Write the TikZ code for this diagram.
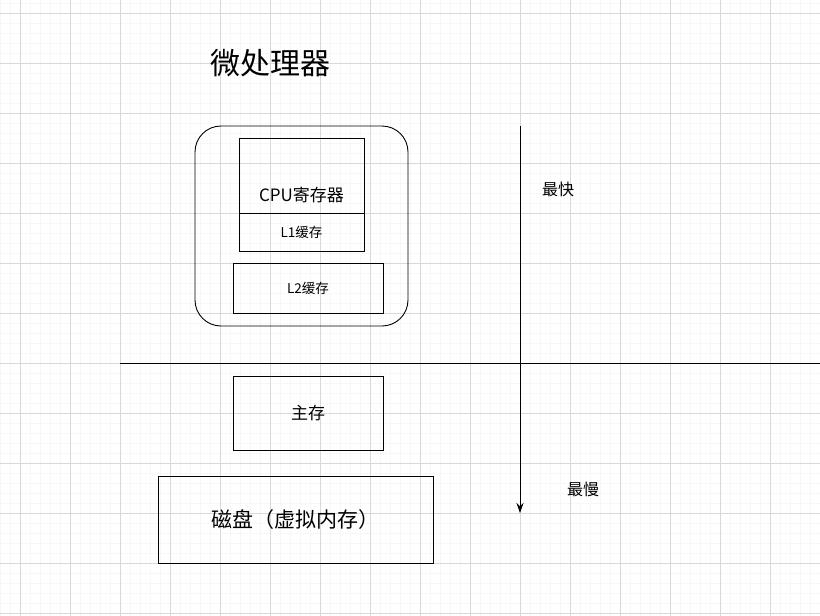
\documentclass[tikz,border=0pt]{standalone}
\usepackage{fontspec}
\setmainfont{Noto Sans CJK SC}
\usetikzlibrary{arrows.meta}
\begin{document}
\begin{tikzpicture}[x=1pt,y=-1pt,
  box/.style={draw,line width=0.9pt,inner sep=0},
  lbl/.style={inner sep=0}]
\useasboundingbox (0,0) rectangle (820,616);
\fill[white] (0,0) rectangle (820,616);
\foreach \i in {0,10,...,820} \draw[black!3,line width=0.6pt] (\i,0) -- (\i,616);
\foreach \j in {3,13,...,616} \draw[black!3,line width=0.6pt] (0,\j) -- (820,\j);
\foreach \i in {20,70,...,820} \draw[black!15,line width=0.8pt] (\i,0) -- (\i,616);
\foreach \j in {13,63,...,616} \draw[black!15,line width=0.8pt] (0,\j) -- (820,\j);
\node[lbl,font=\fontsize{30}{32}\selectfont] (title) at (270,63) {微处理器};
\draw[box,rounded corners=26pt] (195,126) rectangle (408,326);
\node[box,minimum width=125pt,minimum height=75pt] (cpu) at (301.5,175.5) {};
\node[lbl,font=\fontsize{17}{19}\selectfont] at (301.5,195) {CPU寄存器};
\node[box,minimum width=125pt,minimum height=38pt,font=\fontsize{13.5}{15}\selectfont] (l1) at (301.5,232) {L1缓存};
\node[box,minimum width=150pt,minimum height=50pt,font=\fontsize{13.5}{15}\selectfont] (l2) at (308,288) {L2缓存};
\node[box,minimum width=150pt,minimum height=74pt,font=\fontsize{17}{19}\selectfont] (mem) at (308,413) {主存};
\node[box,minimum width=275pt,minimum height=87pt,font=\fontsize{21}{23}\selectfont] (disk) at (295.5,519.5) {磁盘（虚拟内存）};
\coordinate (hl) at (120,363); \coordinate (hr) at (820,363);
\draw[line width=0.9pt] (hl) -- (hr);
\coordinate (vt) at (520,126); \coordinate (vb) at (520,513);
\draw[line width=0.9pt,-{Stealth[length=10pt,width=7pt]}] (vt) -- (vb);
\node[lbl,font=\fontsize{16}{18}\selectfont] (fast) at (558,189) {最快};
\node[lbl,font=\fontsize{16}{18}\selectfont] (slow) at (583,489) {最慢};
\end{tikzpicture}
\end{document}
